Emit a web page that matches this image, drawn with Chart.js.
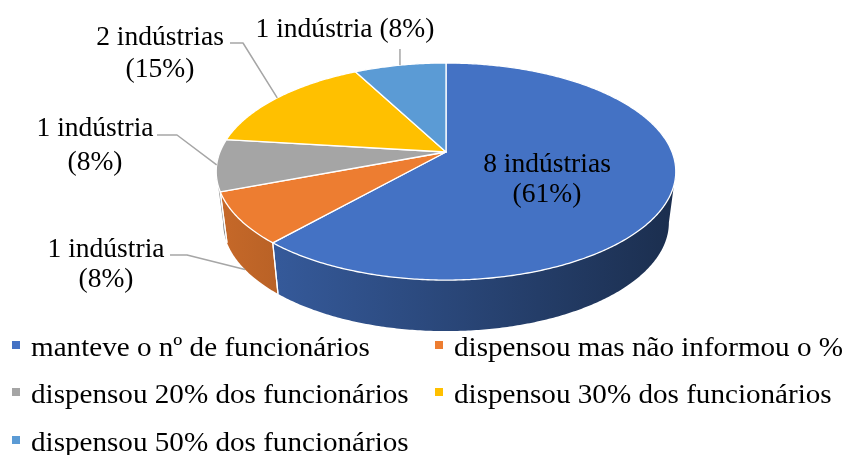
<!DOCTYPE html>
<html>
<head>
<meta charset="utf-8">
<script src="https://cdn.jsdelivr.net/npm/chart.js@4.4.0/dist/chart.umd.min.js"></script>
<style>
  body { margin: 0; background: #fff; }
  #Diagramm { display: block; }
</style>
</head>
<body>
<canvas id="Diagramm" width="845" height="455"></canvas>
<script>
// dados do grafico
const categorias = [
  'manteve o nº de funcionários',
  'dispensou mas não informou o %',
  'dispensou 20% dos funcionários',
  'dispensou 30% dos funcionários',
  'dispensou 50% dos funcionários'
];
const industrias = [8, 1, 1, 2, 1];
const percentuais = [61, 8, 8, 15, 8];

const cores = ['#4472C4', '#ED7D31', '#A5A5A5', '#FFC000', '#5B9BD5'];

// onde fica o texto de cada rotulo (centro x, primeira linha de base, entrelinha) e a linha guia
const rotulos = [
  {x: 547, y: 172, lh: 30},
  {x: 106, y: 257, lh: 30, guia: [[170, 255], [187, 255]], parede: true},
  {x: 95, y: 136, lh: 34, guia: [[157, 135], [177, 135]]},
  {x: 160, y: 45, lh: 32, guia: [[230, 43], [243, 43]]},
  {x: 345, y: 37, umaLinha: true, guiaTopo: 49}
];

const FONTE = '"Liberation Serif", "Times New Roman", serif';

function hexRgb(hex) {
  var n = parseInt(hex.slice(1), 16);
  return [(n >> 16) & 255, (n >> 8) & 255, n & 255];
}
function escurecer(hex, f) {
  var c = hexRgb(hex);
  return 'rgb(' + Math.round(c[0]*f) + ',' + Math.round(c[1]*f) + ',' + Math.round(c[2]*f) + ')';
}

// projeta um ponto da borda do disco (angulo a partir do topo, sentido horario) com perspectiva
function projetar(g, theta, baixo) {
  var u = Math.sin(theta), v = Math.cos(theta);
  var d = 1 + g.p * v;
  var x = g.A * u / d, y = -g.B * v / d;
  if (baixo) { x *= g.s; y += g.h; }
  return [g.cx + x, g.cy + y];
}

function geometria(chart) {
  var arco = chart.getDatasetMeta(0).data[0];
  var R = arco.outerRadius;
  return {cx: arco.x, cy: arco.y, A: R * 1.487, B: R * 0.691, p: 0.18, h: 51, s: 0.97};
}

function angulos(arco) {
  return [arco.startAngle + Math.PI / 2, arco.endAngle + Math.PI / 2];
}

const pizza3d = {
  id: 'pizza3d',
  beforeDatasetsDraw(chart) {
    var ctx = chart.ctx;
    var g = geometria(chart);
    var arcos = chart.getDatasetMeta(0).data;
    var t1 = Math.acos(-g.p), t2 = 2 * Math.PI - t1;

    // paredes laterais visiveis
    arcos.forEach(function(arco, i) {
      var ang = angulos(arco);
      var a = Math.max(ang[0], t1), b = Math.min(ang[1], t2);
      if (a >= b) return;
      var n = Math.max(2, Math.ceil((b - a) / 0.01));
      ctx.beginPath();
      for (var k = 0; k <= n; k++) {
        var p = projetar(g, a + (b - a) * k / n, false);
        k === 0 ? ctx.moveTo(p[0], p[1]) : ctx.lineTo(p[0], p[1]);
      }
      for (var k = n; k >= 0; k--) {
        var p = projetar(g, a + (b - a) * k / n, true);
        ctx.lineTo(p[0], p[1]);
      }
      ctx.closePath();
      var grad = ctx.createLinearGradient(g.cx - g.A * 1.02, 0, g.cx + g.A * 1.02, 0);
      grad.addColorStop(0, escurecer(cores[i], 0.84));
      grad.addColorStop(1, escurecer(cores[i], 0.40));
      ctx.fillStyle = grad;
      ctx.fill();
    });

    // costuras brancas entre as paredes
    ctx.strokeStyle = '#fff';
    ctx.lineWidth = 1.2;
    arcos.forEach(function(arco) {
      var ang = angulos(arco);
      [ang[0], ang[1]].forEach(function(t) {
        if (t > t1 && t < t2) {
          var p = projetar(g, t, false), q = projetar(g, t, true);
          ctx.beginPath();
          ctx.moveTo(p[0], p[1]);
          ctx.lineTo(q[0], q[1]);
          ctx.stroke();
        }
      });
    });

    // tampa
    arcos.forEach(function(arco, i) {
      var ang = angulos(arco);
      var n = Math.max(2, Math.ceil((ang[1] - ang[0]) / 0.01));
      ctx.beginPath();
      ctx.moveTo(g.cx, g.cy);
      for (var k = 0; k <= n; k++) {
        var p = projetar(g, ang[0] + (ang[1] - ang[0]) * k / n, false);
        ctx.lineTo(p[0], p[1]);
      }
      ctx.closePath();
      ctx.fillStyle = cores[i];
      ctx.fill();
      ctx.strokeStyle = '#fff';
      ctx.lineWidth = 1.3;
      ctx.lineJoin = 'round';
      ctx.stroke();
    });
    return false;
  },
  afterDraw(chart) {
    var ctx = chart.ctx;
    var g = geometria(chart);
    var arcos = chart.getDatasetMeta(0).data;

    // linhas guia
    ctx.strokeStyle = '#A6A6A6';
    ctx.lineWidth = 1.5;
    arcos.forEach(function(arco, i) {
      var r = rotulos[i];
      var ang = angulos(arco);
      var m = (ang[0] + ang[1]) / 2;
      var alvo = projetar(g, m, !!r.parede);
      if (r.guia) {
        ctx.beginPath();
        ctx.moveTo(r.guia[0][0], r.guia[0][1]);
        ctx.lineTo(r.guia[1][0], r.guia[1][1]);
        ctx.lineTo(alvo[0], alvo[1]);
        ctx.stroke();
      } else if (r.guiaTopo) {
        ctx.beginPath();
        ctx.moveTo(alvo[0], r.guiaTopo);
        ctx.lineTo(alvo[0], alvo[1]);
        ctx.stroke();
      }
    });

    // textos dos rotulos
    ctx.fillStyle = '#000';
    ctx.font = '27px ' + FONTE;
    ctx.textAlign = 'center';
    ctx.textBaseline = 'alphabetic';
    industrias.forEach(function(qtd, i) {
      var r = rotulos[i];
      var l1 = qtd + (qtd === 1 ? ' indústria' : ' indústrias');
      var l2 = '(' + percentuais[i] + '%)';
      var linhas = r.umaLinha ? [l1 + ' ' + l2] : [l1, l2];
      linhas.forEach(function(t, k) {
        ctx.save();
        ctx.translate(r.x, r.y + k * (r.lh || 0));
        ctx.scale(1.02, 1);
        ctx.fillText(t, 0, 0);
        ctx.restore();
      });
    });

    // legenda em duas colunas
    var colunas = [12, 435];
    var bases = [356, 403, 451];
    ctx.font = '28px ' + FONTE;
    ctx.textAlign = 'left';
    categorias.forEach(function(nome, i) {
      var x = colunas[i % 2], y = bases[Math.floor(i / 2)];
      ctx.fillStyle = cores[i];
      ctx.fillRect(x, y - 15, 8, 8);
      ctx.fillStyle = '#000';
      ctx.save();
      ctx.translate(x + 19, y);
      ctx.scale(1.04, 1);
      ctx.fillText(nome, 0, 0);
      ctx.restore();
    });
  }
};

const CHART = document.getElementById('Diagramm');

let graficoPizza = new Chart(CHART, {
  type: 'pie',
  data: {
    labels: categorias,
    datasets: [{
      data: industrias,
      backgroundColor: cores,
      borderWidth: 0
    }]
  },
  options: {
    responsive: false,
    animation: false,
    layout: {padding: {left: 47, right: 0, top: 0, bottom: 151}},
    plugins: {
      legend: {display: false},
      tooltip: {enabled: false}
    }
  },
  plugins: [pizza3d]
});
</script>
</body>
</html>
